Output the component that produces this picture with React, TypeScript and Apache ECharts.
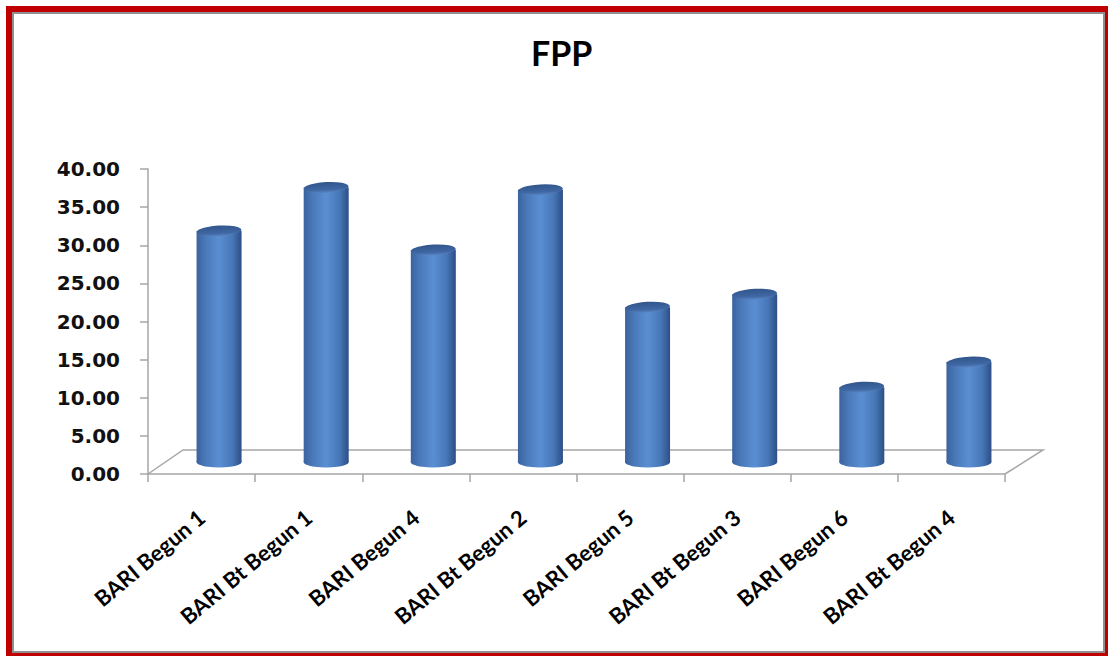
import React, { useEffect, useRef } from "react";
import * as echarts from "echarts";

const categories = [
  "BARI Begun 1",
  "BARI Bt Begun 1",
  "BARI Begun 4",
  "BARI Bt Begun 2",
  "BARI Begun 5",
  "BARI Bt Begun 3",
  "BARI Begun 6",
  "BARI Bt Begun 4",
];
const fppValues = [30.3, 36.0, 27.8, 35.7, 20.3, 22.0, 9.8, 13.1];
const yMin = 0;
const yMax = 40;
const yInterval = 5;
const titleText = "FPP";

const W = 1108;
const H = 656;
// front plane of the 3D floor
const FRONT = { left: 148, top: 169, right: 1005, bottom: 474 };
// depth offset of the floor's back edge
const DEPTH = { dx: 35, dy: -24 };

export default function App() {
  const ref = useRef<HTMLDivElement>(null);
  useEffect(() => {
    if (!ref.current) return;
    const chart = echarts.init(ref.current, undefined, { renderer: "svg" });
    const gw = FRONT.right - FRONT.left;
    const gh = FRONT.bottom - FRONT.top;
    const midDx = DEPTH.dx / 2;
    const midDy = DEPTH.dy / 2;

    const bodyGradient = new echarts.graphic.LinearGradient(0, 0, 1, 0, [
      { offset: 0, color: "#3a639e" },
      { offset: 0.2, color: "#4a79b9" },
      { offset: 0.5, color: "#5a8ed3" },
      { offset: 0.8, color: "#4676b6" },
      { offset: 1, color: "#2c4f85" },
    ]);
    const topGradient = new echarts.graphic.LinearGradient(0, 0, 0, 1, [
      { offset: 0, color: "#32568b" },
      { offset: 0.7, color: "#3f67a3" },
      { offset: 1, color: "#5a86c4" },
    ]);

    const axisGray = "#a6a6a6";

    chart.setOption({
      animation: false,
      backgroundColor: "#ffffff",
      title: {
        text: titleText,
        left: 526,
        top: 30,
        textStyle: {
          fontFamily: "Lato, 'Open Sans', sans-serif",
          fontWeight: "bold",
          fontSize: 34,
          color: "#000000",
        },
      },
      grid: [
        {
          left: FRONT.left,
          top: FRONT.top,
          width: gw,
          height: gh,
        },
        {
          left: FRONT.left + midDx,
          top: FRONT.top + midDy,
          width: gw,
          height: gh,
        },
      ],
      xAxis: [
        {
          type: "category",
          gridIndex: 0,
          data: categories,
          axisLine: { lineStyle: { color: axisGray, width: 1.5 } },
          axisTick: { show: true, length: 8, lineStyle: { color: axisGray, width: 1.5 } },
          axisLabel: {
            interval: 0,
            rotate: 40,
            margin: 40,
            fontFamily: "Lato, 'Open Sans', sans-serif",
            fontWeight: "bold",
            fontSize: 22,
            color: "#000000",
          },
          splitLine: { show: false },
        },
        {
          type: "category",
          gridIndex: 1,
          data: categories,
          show: false,
        },
      ],
      yAxis: [
        {
          type: "value",
          gridIndex: 0,
          min: yMin,
          max: yMax,
          interval: yInterval,
          axisLine: { show: true, lineStyle: { color: axisGray, width: 1.5 } },
          axisTick: { show: true, length: 8, lineStyle: { color: axisGray, width: 1.5 } },
          splitLine: { show: false },
          axisLabel: {
            margin: 28,
            formatter: (v: number) => v.toFixed(2),
            fontFamily: "'DejaVu Sans', Verdana, sans-serif",
            fontWeight: "bold",
            fontSize: 20,
            color: "#111111",
          },
        },
        {
          type: "value",
          gridIndex: 1,
          min: yMin,
          max: yMax,
          interval: yInterval,
          show: false,
        },
      ],
      series: [
        {
          type: "pictorialBar",
          name: "base",
          xAxisIndex: 1,
          yAxisIndex: 1,
          data: fppValues,
          symbol: "circle",
          symbolSize: [45, 11],
          symbolOffset: [0, "50%"],
          symbolPosition: "start",
          barGap: "-100%",
          z: 1,
          itemStyle: { color: bodyGradient },
          silent: true,
        },
        {
          type: "bar",
          name: "FPP",
          xAxisIndex: 1,
          yAxisIndex: 1,
          data: fppValues,
          barWidth: 45,
          z: 2,
          itemStyle: { color: bodyGradient },
        },
        {
          type: "pictorialBar",
          name: "top",
          xAxisIndex: 1,
          yAxisIndex: 1,
          data: fppValues,
          symbol: "circle",
          symbolSize: [45, 11],
          symbolOffset: [0, "-50%"],
          symbolPosition: "end",
          symbolRotate: 3,
          barGap: "-100%",
          z: 3,
          itemStyle: { color: topGradient },
          silent: true,
        },
      ],
      graphic: [
        {
          type: "polyline",
          silent: true,
          z: 0,
          shape: {
            points: [
              [FRONT.left, FRONT.bottom],
              [FRONT.left + DEPTH.dx, FRONT.bottom + DEPTH.dy],
              [FRONT.right + DEPTH.dx + 3, FRONT.bottom + DEPTH.dy],
              [FRONT.right, FRONT.bottom],
            ],
          },
          style: { stroke: axisGray, lineWidth: 1.5, fill: null },
        },
        {
          type: "rect",
          silent: true,
          shape: { x: 9, y: 9, width: W - 9, height: H - 9 },
          style: { stroke: "#c00000", lineWidth: 6, fill: null },
        },
        {
          type: "rect",
          silent: true,
          shape: { x: 13, y: 13, width: W - 17, height: H - 17 },
          style: { stroke: "#909090", lineWidth: 2, fill: null },
        },
      ],
    });
    return () => chart.dispose();
  }, []);
  return (
    <div
      ref={ref}
      style={{ position: "fixed", left: 0, top: 0, width: W, height: H }}
    />
  );
}
